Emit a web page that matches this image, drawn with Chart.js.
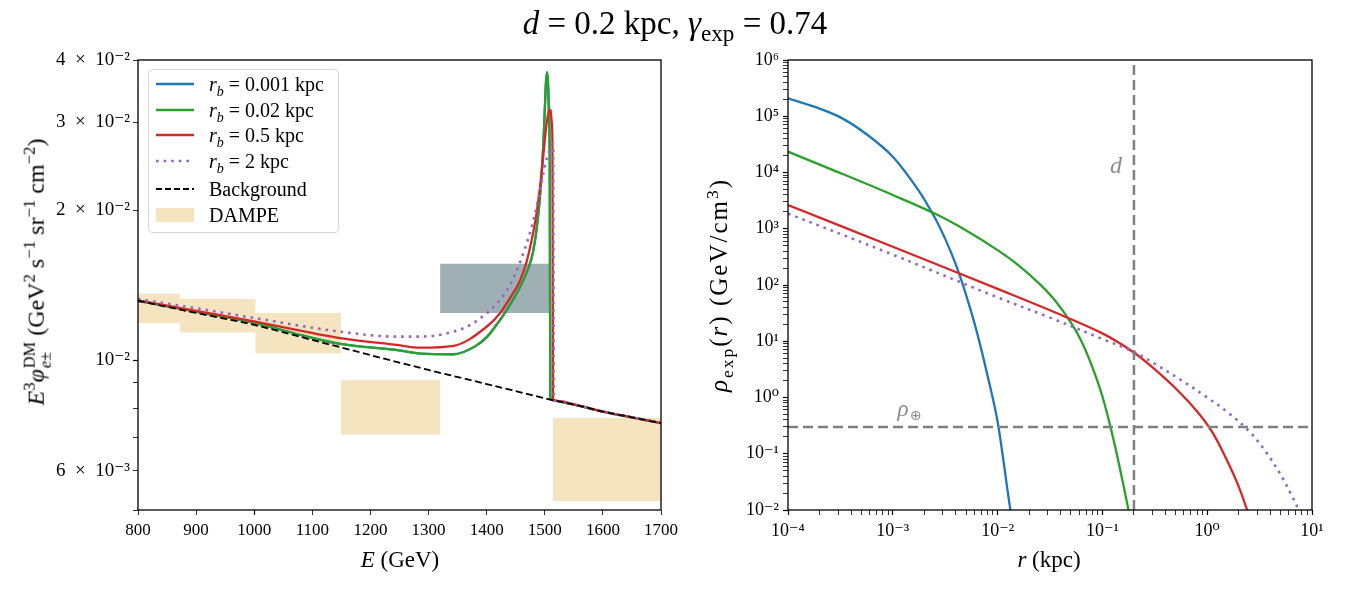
<!DOCTYPE html>
<html>
<head>
<meta charset="utf-8">
<script src="https://cdn.jsdelivr.net/npm/chart.js@4"></script>
<style>
  body { margin: 0; background: #fff; }
  #wrap { position: relative; width: 1350px; height: 600px; font-family: 'Liberation Serif', 'DejaVu Serif', serif; color: #000; }
  canvas { position: absolute; top: 0; }
  .txt { position: absolute; white-space: nowrap; transform: translate(-50%, -50%); }
  .ytitle { position: absolute; white-space: nowrap; transform: translate(-50%, -50%) rotate(-90deg); }
  .ss { display: inline-flex; flex-direction: column; font-size: 0.68em; line-height: 1.0; vertical-align: 0.56em; margin-left: 1px; }
  sup, sub { font-size: 0.7em; line-height: 0; }
  #legend { position: absolute; left: 148px; top: 69px; width: 189px; height: 162px; border: 1px solid #d6d6d6; border-radius: 4px; background: rgba(255,255,255,0.85); font-size: 20px; }
  .entry { position: absolute; left: 0; height: 26px; display: flex; align-items: center; }
  .entry svg { margin-left: 6px; margin-right: 14px; }
</style>
</head>
<body>
<div id="wrap">
  <canvas id="left" width="680" height="600" style="left:0"></canvas>
  <canvas id="right" width="670" height="600" style="left:680px"></canvas>
  <div class="txt" style="left:675px;top:23px;font-size:33px"><i>d</i> = 0.2 kpc, <i>γ</i><sub>exp</sub> = 0.74</div>
  <div class="txt" style="left:400px;top:560px;font-size:23px"><i>E</i> (GeV)</div>
  <div class="txt" style="left:1049px;top:560px;font-size:23px"><i>r</i> (kpc)</div>
  <div class="ytitle" style="left:38px;top:272px;font-size:24px"><i>E</i><sup>3</sup><i>φ</i><span class="ss"><span>DM</span><span><i>e</i>±</span></span> (GeV<sup>2</sup> s<sup>−1</sup> sr<sup>−1</sup> cm<sup>−2</sup>)</div>
  <div class="ytitle" style="left:719px;top:285px;font-size:25px;letter-spacing:2px"><i>ρ</i><sub>exp</sub>(<i>r</i>) (GeV/cm<sup>3</sup>)</div>
  <div id="legend"></div>
</div>
<script>
// ---------- left panel: spectrum ----------
// shared tail above the cut-off, where every curve sits on the background
const tailE = [1520, 1560, 1600, 1650, 1700];
const tailFlux = [8.28e-3, 8.09e-3, 7.88e-3, 7.67e-3, 7.47e-3];

const energyBg = [800, 900, 1000, 1100, 1200, 1300, 1400, 1500, 1513].concat(tailE);
const fluxBg = [1.315e-2, 1.243e-2, 1.176e-2, 1.097e-2, 1.023e-2, 9.55e-3, 8.95e-3, 8.38e-3, 8.31e-3].concat(tailFlux);

// r_b = 0.001 kpc is hidden right under the 0.02 kpc curve
const energyBlue = [800, 900, 1002, 1085, 1148, 1200, 1246, 1286, 1343, 1380, 1401, 1420, 1433, 1446, 1457, 1466, 1475, 1480, 1486, 1491, 1495, 1498, 1500.5, 1502, 1504, 1505.5, 1507, 1508.5, 1509.5, 1513].concat(tailE);
const fluxBlue = [1.315e-2, 1.25e-2, 1.186e-2, 1.119e-2, 1.077e-2, 1.06e-2, 1.047e-2, 1.03e-2, 1.027e-2, 1.065e-2, 1.114e-2, 1.19e-2, 1.252e-2, 1.325e-2, 1.398e-2, 1.472e-2, 1.569e-2, 1.652e-2, 1.833e-2, 2.08e-2, 2.411e-2, 2.787e-2, 3.28e-2, 3.6e-2, 3.78e-2, 3.62e-2, 3.2e-2, 2.5e-2, 8.4e-3, 8.31e-3].concat(tailFlux);
const energyGreen = [800, 900, 1002, 1085, 1148, 1200, 1246, 1286, 1343, 1380, 1401, 1420, 1433, 1446, 1457, 1466, 1475, 1480, 1486, 1491, 1495, 1498, 1500.5, 1502, 1504, 1505.5, 1507, 1508.5, 1509.5, 1513].concat(tailE);
const fluxGreen = [1.315e-2, 1.25e-2, 1.186e-2, 1.119e-2, 1.077e-2, 1.06e-2, 1.047e-2, 1.03e-2, 1.027e-2, 1.065e-2, 1.114e-2, 1.19e-2, 1.252e-2, 1.325e-2, 1.398e-2, 1.472e-2, 1.569e-2, 1.652e-2, 1.833e-2, 2.08e-2, 2.411e-2, 2.787e-2, 3.28e-2, 3.6e-2, 3.78e-2, 3.62e-2, 3.2e-2, 2.5e-2, 8.4e-3, 8.31e-3].concat(tailFlux);
const energyRed = [800, 900, 1002, 1148, 1246, 1285, 1343, 1400, 1423, 1440, 1457, 1468, 1477.5, 1485, 1490.5, 1495, 1499, 1502.5, 1505.5, 1508, 1510, 1512, 1513.2, 1514.2].concat(tailE);
const fluxRed = [1.316e-2, 1.255e-2, 1.194e-2, 1.106e-2, 1.072e-2, 1.059e-2, 1.068e-2, 1.166e-2, 1.241e-2, 1.33e-2, 1.44e-2, 1.564e-2, 1.741e-2, 1.94e-2, 2.161e-2, 2.406e-2, 2.68e-2, 2.939e-2, 3.102e-2, 3.185e-2, 3.17e-2, 3.0e-2, 2.7e-2, 8.35e-3].concat(tailFlux);
const energyPurple = [800, 900, 1002, 1148, 1246, 1285, 1343, 1371, 1400, 1423, 1440, 1454.5, 1466, 1477.5, 1486, 1493, 1498.7, 1504.4, 1509, 1512.4, 1514.5, 1515.5].concat(tailE);
const fluxPurple = [1.325e-2, 1.27e-2, 1.213e-2, 1.14e-2, 1.114e-2, 1.114e-2, 1.14e-2, 1.175e-2, 1.241e-2, 1.32e-2, 1.414e-2, 1.539e-2, 1.676e-2, 1.851e-2, 2.031e-2, 2.227e-2, 2.406e-2, 2.559e-2, 2.648e-2, 2.701e-2, 2.71e-2, 8.35e-3].concat(tailFlux);

// DAMPE bins
const binLo = [800, 872, 1002, 1149, 1514];
const binHi = [872, 1002, 1149, 1320, 1700];
const dampeLo = [1.186e-2, 1.135e-2, 1.031e-2, 7.09e-3, 5.21e-3];
const dampeHi = [1.358e-2, 1.325e-2, 1.242e-2, 9.11e-3, 7.65e-3];
// the highlighted bin
const peakBin = [1320, 1510];
const peakFlux = [1.242e-2, 1.561e-2];

const rbLabels = ['0.001', '0.02', '0.5', '2'];
const colors = ['#1f77b4', '#2ca02c', '#d62728', '#9467bd'];
const tan = 'rgb(244,228,191)';
const slate = 'rgb(158,176,180)';

// ---------- right panel: density profiles ----------
const rBlue = [1e-4, 1.778e-4, 3.162e-4, 5.623e-4, 1e-3, 1.778e-3, 2.512e-3, 3.162e-3, 3.981e-3, 5.012e-3, 6.31e-3, 7.943e-3, 1e-2, 1.259e-2, 1.349e-2];
const rhoBlue = [2.089e5, 1.479e5, 9.55e4, 4.786e4, 1.905e4, 4677, 1585, 660.7, 234.4, 66.07, 15.14, 2.63, 0.3715, 0.01905, 0.00794];
const rGreen = [1e-4, 3.162e-4, 1e-3, 2.512e-3, 5.012e-3, 1e-2, 1.585e-2, 2.512e-2, 3.548e-2, 5.012e-2, 6.31e-2, 7.943e-2, 0.1, 0.1259, 0.1585, 0.1862];
const rhoGreen = [2.344e4, 9772, 3981, 1862, 933.3, 416.9, 223.9, 104.7, 52.48, 21.38, 10, 3.631, 1.047, 0.1995, 0.02818, 0.00631];
const rRed = [1e-4, 1e-3, 1e-2, 3.162e-2, 0.1, 0.1995, 0.3162, 0.5012, 0.7943, 1.122, 1.585, 1.995, 2.512];
const rhoRed = [2630, 478.6, 85.11, 35.48, 13.8, 6.31, 3.162, 1.445, 0.5754, 0.2399, 0.06918, 0.0263, 0.00794];
const rPurple = [1e-4, 1e-3, 1e-2, 3.162e-2, 0.1, 0.1995, 0.3162, 0.5623, 1.0, 1.585, 2.512, 3.548, 5.012, 6.31, 7.943];
const rhoPurple = [1862, 346.7, 60.26, 26.3, 10.96, 6.457, 3.981, 2.042, 1.0, 0.537, 0.2512, 0.1148, 0.04266, 0.01905, 0.00794];

const dDist = 0.2;     // kpc
const rhoEarth = 0.3;  // GeV/cm^3
const rRange = [1e-4, 10];
const rhoRange = [1e-2, 1e6];

const pts = (xs, ys) => xs.map((x, i) => ({ x: x, y: ys[i] }));
const box = (x0, x1, y0, y1) => [{x:x0,y:y0},{x:x1,y:y0},{x:x1,y:y1},{x:x0,y:y1},{x:x0,y:y0}];

const supMap = {'-':'⁻','0':'⁰','1':'¹','2':'²','3':'³','4':'⁴','5':'⁵','6':'⁶','7':'⁷','8':'⁸','9':'⁹'};
function pow10(e) { return '10' + String(e).split('').map(c => supMap[c]).join(''); }
function isDecade(v) { const l = Math.log10(v); return Math.abs(l - Math.round(l)) < 1e-6; }
function logTicks(lo, hi) {
  const out = [];
  for (let e = lo; e < hi; e++) for (let m = 1; m < 10; m++) out.push({ value: m * Math.pow(10, e) });
  out.push({ value: Math.pow(10, hi) });
  return out;
}

Chart.defaults.font.family = "'Liberation Serif', 'DejaVu Serif', serif";
Chart.defaults.font.size = 17;
Chart.defaults.color = '#000';

// box round the plot area, like matplotlib spines
const spines = {
  id: 'spines',
  afterDraw(chart) {
    const a = chart.chartArea, c = chart.ctx;
    c.save();
    c.strokeStyle = '#000';
    c.lineWidth = 1.3;
    c.strokeRect(a.left, a.top, a.right - a.left, a.bottom - a.top);
    c.restore();
  }
};

const tickGrid = {
  drawOnChartArea: false, drawTicks: true, tickLength: 5, color: '#000',
  tickWidth: (ctx) => (ctx.tick && isDecade(ctx.tick.value)) ? 1.2 : 0.8
};
// fixed axis sizes so the plot boxes land where the reference has them
const fixX = (s) => { s.height = 30; s.paddingLeft = 0; s.paddingRight = 0; };
const fixY = (w) => (s) => { s.width = w; s.paddingTop = 0; s.paddingBottom = 0; };

const line = (data, color, order, extra) => Object.assign({
  data: data, borderColor: color, borderWidth: 2.3, pointRadius: 0, fill: false,
  cubicInterpolationMode: 'monotone', order: order
}, extra || {});

// ---- left chart ----
const leftSets = [];
leftSets.push(line(pts(energyBg, fluxBg), '#000', 0, { borderDash: [7, 3.5], borderWidth: 1.8 }));
leftSets.push(line(pts(energyPurple, fluxPurple), colors[3], 1, { borderDash: [2.6, 5], borderWidth: 2.6 }));
leftSets.push(line(pts(energyRed, fluxRed), colors[2], 2));
leftSets.push(line(pts(energyGreen, fluxGreen), colors[1], 3));
leftSets.push(line(pts(energyBlue, fluxBlue), colors[0], 4));
leftSets.push({ data: box(peakBin[0], peakBin[1], peakFlux[0], peakFlux[1]), fill: 'shape',
  backgroundColor: slate, borderColor: 'transparent', borderWidth: 0, pointRadius: 0, tension: 0, order: 5 });
binLo.forEach((lo, i) => {
  leftSets.push({ data: box(lo, binHi[i], dampeLo[i], dampeHi[i]), fill: 'shape',
    backgroundColor: tan, borderColor: 'transparent', borderWidth: 0, pointRadius: 0, tension: 0, order: 6 });
});

new Chart(document.getElementById('left'), {
  type: 'line',
  data: { datasets: leftSets },
  options: {
    responsive: false, animation: false, devicePixelRatio: 1,
    layout: { padding: { left: 0, right: 19, top: 60, bottom: 60 } },
    plugins: { legend: { display: false }, tooltip: { enabled: false } },
    scales: {
      x: {
        type: 'linear', min: 800, max: 1700,
        ticks: { stepSize: 100, padding: 5, maxRotation: 0, autoSkip: false, callback: (v) => String(v) },
        grid: tickGrid, border: { display: false },
        afterFit: fixX
      },
      y: {
        type: 'logarithmic', min: 5e-3, max: 4e-2,
        afterBuildTicks: (s) => { s.ticks = [5e-3, 6e-3, 7e-3, 8e-3, 9e-3, 1e-2, 2e-2, 3e-2, 4e-2].map(v => ({ value: v })); },
        ticks: {
          autoSkip: false, padding: 3, font: { size: 19 },
          callback: (v) => {
            const e = Math.floor(Math.log10(v) + 1e-9);
            const m = Math.round(v / Math.pow(10, e));
            if (m === 1) return pow10(e);
            if ([2, 3, 4].includes(m) && e === -2) return m + '\u2002×\u2002' + pow10(e);
            if (m === 6 && e === -3) return m + '\u2002×\u2002' + pow10(e);
            return '';
          }
        },
        grid: tickGrid, border: { display: false },
        afterFit: fixY(138)
      }
    }
  },
  plugins: [spines]
});

// ---- legend (html, because of the subscripts) ----
const legendEl = document.getElementById('legend');
const legendRows = [];
rbLabels.forEach((lab, i) => legendRows.push({ html: '<i>r</i><sub><i>b</i></sub> = ' + lab + ' kpc', kind: i === 3 ? 'dot' : 'solid', color: colors[i] }));
legendRows.push({ html: 'Background', kind: 'dash', color: '#000' });
legendRows.push({ html: 'DAMPE', kind: 'patch', color: tan });
const rowTops = [1, 27, 52, 78, 106, 132];
legendRows.forEach((r, i) => {
  let mark;
  if (r.kind === 'patch') mark = '<rect x="1" y="-2" width="38" height="14" fill="' + r.color + '"/>';
  else {
    const dash = r.kind === 'dot' ? ' stroke-dasharray="2.6 5"' : (r.kind === 'dash' ? ' stroke-dasharray="6 3"' : '');
    const w = r.kind === 'dash' ? 1.8 : (r.kind === 'dot' ? 2.6 : 2.4);
    mark = '<line x1="1" y1="5" x2="39" y2="5" stroke="' + r.color + '" stroke-width="' + w + '"' + dash + '/>';
  }
  const div = document.createElement('div');
  div.className = 'entry';
  div.style.top = rowTops[i] + 'px';
  div.innerHTML = '<svg width="40" height="10" overflow="visible">' + mark + '</svg><span>' + r.html + '</span>';
  legendEl.appendChild(div);
});

// ---- right chart ----
const refLabels = {
  id: 'refLabels',
  afterDatasetsDraw(chart) {
    const c = chart.ctx, xs = chart.scales.x, ys = chart.scales.y;
    c.save();
    c.fillStyle = '#8a8a8a';
    c.textAlign = 'center';
    c.textBaseline = 'middle';
    c.font = "italic 24px 'Liberation Serif'";
    c.fillText('d', xs.getPixelForValue(0.135), ys.getPixelForValue(1.25e4));
    const px = xs.getPixelForValue(1.25e-3), py = ys.getPixelForValue(0.6);
    c.font = "italic 23px 'Liberation Serif'";
    c.fillText('ρ', px, py);
    c.font = "14px 'DejaVu Sans'";
    c.fillText('⊕', px + 13, py + 6);
    c.restore();
  }
};

const smooth = { cubicInterpolationMode: 'default', tension: 0.35 };
const rightSets = [
  line(pts([rRange[0], rRange[1]], [rhoEarth, rhoEarth]), '#808080', 0, { borderDash: [10, 5], borderWidth: 2.5, cubicInterpolationMode: 'default', tension: 0 }),
  line(pts([dDist, dDist], [rhoRange[0], rhoRange[1]]), '#808080', 0, { borderDash: [10, 5], borderWidth: 2.5, cubicInterpolationMode: 'default', tension: 0 }),
  line(pts(rPurple, rhoPurple), colors[3], 1, Object.assign({ borderDash: [2.6, 5], borderWidth: 2.6 }, smooth)),
  line(pts(rRed, rhoRed), colors[2], 2, smooth),
  line(pts(rGreen, rhoGreen), colors[1], 3, smooth),
  line(pts(rBlue, rhoBlue), colors[0], 4, smooth)
];

new Chart(document.getElementById('right'), {
  type: 'line',
  data: { datasets: rightSets },
  options: {
    responsive: false, animation: false, devicePixelRatio: 1,
    layout: { padding: { left: 0, right: 38, top: 60, bottom: 60 } },
    plugins: { legend: { display: false }, tooltip: { enabled: false } },
    scales: {
      x: {
        type: 'logarithmic', min: rRange[0], max: rRange[1],
        afterBuildTicks: (s) => { s.ticks = logTicks(-4, 1); },
        ticks: { autoSkip: false, padding: 5, maxRotation: 0, font: { size: 18 },
          callback: (v) => isDecade(v) ? pow10(Math.round(Math.log10(v))) : '' },
        grid: tickGrid, border: { display: false },
        afterFit: fixX
      },
      y: {
        type: 'logarithmic', min: rhoRange[0], max: rhoRange[1],
        afterBuildTicks: (s) => { s.ticks = logTicks(-2, 6); },
        ticks: { autoSkip: false, padding: 4, font: { size: 18 },
          callback: (v) => isDecade(v) ? pow10(Math.round(Math.log10(v))) : '' },
        grid: tickGrid, border: { display: false },
        afterFit: fixY(108)
      }
    }
  },
  plugins: [spines, refLabels]
});
</script>
</body>
</html>
